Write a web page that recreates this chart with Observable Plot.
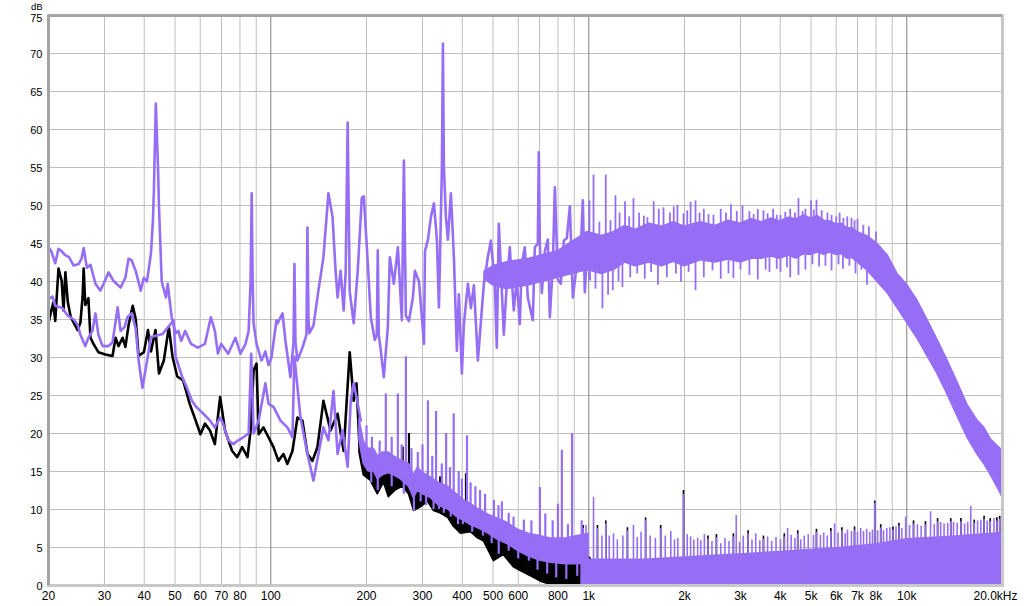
<!DOCTYPE html>
<html>
<head>
<meta charset="utf-8">
<script src="https://cdn.jsdelivr.net/npm/d3@7"></script>
<script src="https://cdn.jsdelivr.net/npm/@observablehq/plot@0.6"></script>
<style>
  html, body { margin: 0; padding: 0; background: #fff; }
  #chart { width: 1024px; height: 606px; overflow: hidden; }
</style>
</head>
<body>
<div id="chart"></div>
<script>
// ---------- Axis ticks ----------
const xTickValues = [20, 30, 40, 50, 60, 70, 80, 100, 200, 300, 400, 500, 600, 800, 1000, 2000, 3000, 4000, 5000, 6000, 7000, 8000, 10000];
const xTickLabels = ["20", "30", "40", "50", "60", "70", "80", "100", "200", "300", "400", "500", "600", "800", "1k", "2k", "3k", "4k", "5k", "6k", "7k", "8k", "10k"];
const xEndTick = [20000];
const xEndLabel = "20.0kHz";
const yTicks = [0, 5, 10, 15, 20, 25, 30, 35, 40, 45, 50, 55, 60, 65, 70];
const yTopTick = [75];
const yUnit = "dB";
const minorGrid = [30, 40, 50, 60, 70, 80, 90, 200, 300, 400, 500, 600, 700, 800, 900, 2000, 3000, 4000, 5000, 6000, 7000, 8000, 9000];
const decadeGrid = [100, 1000, 10000];
const yGrid = [5, 10, 15, 20, 25, 30, 35, 40, 45, 50, 55, 60, 65, 70];

// ---------- Upper purple trace: line, 20 Hz - 1 kHz ----------
const hiFreq = [20.0, 20.4, 21.0, 21.5, 22.0, 22.5, 23.2, 24.0, 24.9, 25.4, 25.8, 26.4, 27.1, 28.1, 29.1, 29.8, 30.9, 32.0, 33.7, 34.9, 35.7, 36.5, 37.6, 39.0, 39.9, 40.8, 42.0, 42.6, 42.9, 43.5, 44.2, 44.5, 45.4, 46.8, 47.4, 48.8, 50.2, 51.2, 52.3, 53.8, 56.1, 59.0, 62.1, 64.8, 66.7, 68.2, 69.8, 73.5, 77.4, 80.3, 83.3, 85.2, 86.4, 87.1, 87.7, 88.3, 90.2, 93.5, 96.2, 98.4, 100.5, 104.2, 105, 108.9, 111.2, 115.3, 117.9, 118.7, 119.6, 121.3, 125.8, 129.5, 130.4, 131.4, 132.3, 136.2, 141.2, 146.4, 151.8, 156.4, 159.9, 162.2, 165.8, 169.5, 172.0, 174.5, 177.1, 182.3, 187.7, 193.3, 196.1, 201.9, 206.3, 212.4, 215.5, 217, 218.6, 221.8, 226.7, 233.4, 236.8, 243.8, 251.0, 258.4, 262.2, 266.0, 271.9, 279.9, 284, 292.5, 303.2, 305.4, 312.1, 318.9, 325.9, 333.0, 337.9, 345.3, 347.8, 350.3, 355.4, 360.6, 368.5, 376.6, 384.8, 390.4, 399.0, 404.8, 416.7, 425.9, 435.2, 448.0, 454.5, 467.8, 481.5, 492.1, 506.4, 513.8, 521.3, 540.5, 552.3, 564.5, 581.0, 593.8, 606.8, 615.7, 629.3, 643.1, 666.9, 676.7, 691.5, 696.5, 701.6, 711.8, 727.5, 743.5, 754.4, 771.0, 782.2, 799.4, 817.0, 834.9, 853.2, 872.0, 891.2, 917.3, 944.2, 957.9, 971.8, 993.2, 1007.7];
const hiDb = [44.5, 44.0, 42.4, 44.3, 44.0, 43.5, 43.2, 42.1, 42.3, 43.0, 44.4, 41.8, 42.2, 39.7, 38.8, 39.7, 41.2, 40.1, 39.2, 40.5, 43.0, 42.8, 41.4, 38.8, 40.5, 40.0, 43.7, 48, 52.0, 63.4, 55, 50, 40.0, 37.9, 39.7, 35.3, 33.2, 33.5, 32.2, 33.5, 31.8, 31.3, 31.8, 35.3, 33.5, 30.5, 31.8, 30.5, 32.6, 30.5, 31.8, 33.5, 40, 51.6, 40, 34.5, 31.8, 29.6, 30.8, 29.0, 30.0, 34.9, 34.5, 35.8, 32.2, 27.4, 32, 42.3, 32, 29.6, 31.3, 33, 47.1, 35, 33.2, 34.2, 38.8, 43.2, 51.6, 48.5, 41.4, 37.9, 41.4, 36.2, 41.4, 60.9, 38.7, 34.5, 41.4, 51.0, 51.2, 42.4, 35.3, 32.3, 33, 44.1, 33, 30.9, 27.4, 34.0, 43.2, 39.7, 44.5, 34.9, 55.9, 35.5, 34.8, 37.9, 41.4, 40.0, 31.8, 44.0, 45.5, 48.5, 50.3, 45.5, 36.6, 55, 71.3, 55, 48.5, 45.5, 51.6, 43.2, 30.9, 38.3, 27.9, 34.4, 39.7, 36.5, 39.5, 29.6, 33.0, 39.7, 43.2, 45.4, 39.7, 31.3, 47.6, 33.0, 39.7, 44.5, 36.2, 40.3, 34.4, 42.3, 44.5, 37.9, 34.9, 44.5, 45, 57.0, 45, 38.5, 44.0, 45.5, 35.3, 42.3, 52.4, 40.3, 39.7, 45.4, 45.7, 49.9, 37.9, 42.3, 44.5, 50.7, 38.6, 46.1, 40.3];

// ---------- Upper purple trace: dense core, 470 Hz - 20 kHz ----------
const hiCoreFreq = [470, 500, 550, 650, 800, 990, 1100, 1200, 1300, 1400, 1550, 1700, 1850, 2000, 2250, 2500, 2750, 3000, 3250, 3500, 3750, 4000, 4250, 4500, 4750, 5000, 5250, 5500, 5750, 6000, 6250, 6500, 6750, 7000, 7500, 8070, 8690, 9350, 10050, 10800, 11600, 12500, 13400, 14450, 15500, 16700, 17500, 18400, 19700, 20000];
const hiCoreLo = [40.3, 39.5, 39.0, 39.5, 40.5, 41.5, 41.0, 41.5, 42.5, 42.0, 42.5, 42.0, 42.6, 42.0, 42.8, 42.5, 42.9, 42.5, 43.0, 43.0, 43.3, 43.0, 43.4, 43.0, 43.6, 43.5, 43.8, 43.5, 43.8, 43.5, 43.6, 43.0, 43.1, 42.5, 41.5, 40.0, 38.5, 36.5, 34.5, 32.5, 30.2, 27.8, 25.2, 22.2, 19.5, 17.2, 16.0, 14.5, 12.2, 11.5];
const hiCoreHi = [41.3, 42.0, 42.5, 43.0, 44.0, 46.5, 46.0, 46.5, 47.3, 46.8, 47.6, 47.2, 47.8, 47.2, 47.8, 47.3, 48.0, 47.6, 48.2, 47.8, 48.3, 47.9, 48.4, 48.2, 48.7, 48.3, 48.6, 48.0, 47.9, 47.5, 47.6, 47.0, 47.0, 46.5, 46.0, 45.0, 43.5, 41.0, 39.5, 37.5, 35.0, 32.3, 29.7, 26.7, 23.8, 21.7, 20.8, 19.2, 18.0, 17.5];
// peaks rising out of the core, and dips falling out of it
const hiUpBase = 45;
const hiUpFreq = [1005, 1035, 1080, 1131, 1170, 1213, 1250, 1300, 1340, 1382, 1440, 1490, 1529, 1600, 1660, 1718, 1800, 1850, 1900, 1986, 2040, 2090, 2166, 2230, 2300, 2380, 2467, 2600, 2700, 2800, 2920, 3044, 3200, 3300, 3400, 3543, 3650, 3800, 3900, 4007, 4150, 4300, 4450, 4564, 4700, 4800, 5000, 5100, 5200, 5400, 5630, 5800, 6000, 6150, 6320, 6500, 6700, 6850, 7000, 7300, 7600, 8000];
const hiUpTop = [50.6, 54.0, 47.8, 54.0, 48.0, 51.3, 49.0, 50.5, 48.5, 50.9, 49.0, 48.6, 48.4, 50.5, 49.5, 49.7, 49.0, 49.8, 50.0, 48.9, 49.3, 50.4, 50.6, 49.0, 49.5, 48.8, 48.7, 49.5, 49.0, 50.1, 49.2, 50.0, 49.2, 48.8, 49.5, 49.3, 48.9, 49.5, 48.7, 48.7, 49.1, 49.5, 49.0, 50.9, 49.2, 49.5, 50.6, 49.4, 50.7, 49.3, 49.0, 48.7, 48.5, 49.0, 48.3, 48.5, 48.3, 48.0, 48.2, 47.4, 47.2, 46.5];
const hiDownBase = 44;
const hiDownFreq = [1050, 1104, 1150, 1190, 1240, 1276, 1350, 1420, 1500, 1570, 1650, 1760, 1880, 1950, 2060, 2166, 2300, 2450, 2600, 2750, 2850, 3000, 3200, 3400, 3600, 3700, 3900, 4007, 4200, 4300, 4564, 4800, 5050, 5300, 5550, 5800, 6100, 6300, 6600, 6900, 7200, 7500];
const hiDownBot = [39.0, 36.4, 38.2, 38.8, 40.0, 39.2, 40.5, 41.0, 40.3, 41.2, 39.5, 40.5, 41.0, 39.9, 41.2, 38.8, 40.5, 41.4, 40.3, 41.0, 40.4, 41.5, 40.8, 40.2, 41.5, 41.2, 41.6, 41.2, 41.8, 40.5, 40.8, 41.5, 42.2, 41.9, 42.0, 41.4, 42.2, 41.6, 42.0, 41.0, 41.5, 39.5];

// ---------- Black trace ----------
const blkFreq = [20, 20.4, 20.7, 21.0, 21.5, 22.0, 22.3, 22.6, 23.0, 23.5, 24.0, 24.7, 25.2, 25.6, 25.8, 26.1, 26.7, 27.1, 27.7, 28.7, 30.2, 31.8, 32.5, 33.2, 34.2, 34.9, 35.7, 36.8, 37.6, 38.4, 39.9, 41.1, 42.0, 43.4, 44.5, 46.1, 47.8, 49.1, 50.8, 53.0, 55.6, 57.6, 60.1, 62.1, 64.4, 66.7, 69.3, 71.8, 75.6, 78.4, 81.3, 84.5, 86.4, 88.3, 90.2, 91.6, 94.8, 98.4, 102, 105.7, 109.6, 112.8, 117.0, 121.3, 125.8, 130.4, 135.2, 140.2, 146.4, 154.1, 162.2, 169.5, 177.1, 182.3, 186, 190];
const blkDb = [34.6, 36.1, 37.2, 34.8, 41.7, 40.1, 36.2, 41.2, 37.3, 35.3, 34.6, 33.6, 34.6, 38, 41.7, 36.9, 37.8, 32.6, 31.8, 30.7, 30.4, 30.2, 32.6, 31.5, 32.6, 31.4, 34.2, 36.8, 35.1, 30.2, 30.7, 33.6, 30.8, 33.6, 27.9, 29.6, 34.0, 30.1, 27.5, 27.0, 23.9, 22.1, 19.9, 21.3, 20.4, 18.6, 24.8, 20.4, 17.7, 16.9, 18.2, 16.9, 20.4, 28.3, 29.2, 19.9, 20.8, 19.5, 18.2, 16.4, 17.3, 16.0, 17.7, 22.1, 21.7, 17.3, 16.4, 18.2, 24.3, 20.4, 22.6, 17.7, 30.7, 24.3, 26.6, 18.5];
const blkMidFreq = [190, 196, 206, 217, 227, 235, 247, 260, 272, 282, 297, 312, 326, 341, 361, 377, 396, 426, 448, 468, 503, 540, 581, 611, 672, 707, 744, 777, 817, 860, 900, 965, 1015];
const blkMidLo = [17.5, 14.5, 13.8, 12.0, 13.5, 11.6, 12.5, 13.0, 12.0, 9.8, 10.3, 11.0, 9.8, 9.5, 8.9, 7.7, 6.8, 7.0, 6.2, 5.8, 3.2, 4.0, 2.4, 1.9, 1.0, 0.5, 0.2, 0, 0, 0, 0, 0, 0];
const blkMidHi = [19.5, 17.0, 16.0, 15.0, 15.5, 15.0, 15.0, 15.0, 14.0, 12.5, 13.0, 13.0, 12.0, 11.5, 11.0, 9.5, 9.0, 8.5, 8.0, 7.5, 6.5, 6.0, 5.0, 4.5, 4.0, 4.0, 3.5, 3.5, 4.0, 4.5, 3.5, 4.5, 3.5];
const blkMidTipFreq = [227, 260, 272, 312, 341, 411];
const blkMidTipBase = [14, 14, 14, 12, 11, 9];
const blkMidTipTop = [17.3, 18.2, 20.0, 15.1, 14.3, 14.7];
const blkTipFreq = [960, 1065, 1131, 1323, 1509, 1683, 1986, 2370, 2520, 2850, 3170, 3543, 4120, 4540, 5200, 5770, 6250, 6850, 7930, 8280, 9050, 9450, 10500, 11450, 12500, 13750, 14800, 16300, 17500, 18300, 19200, 19600];
const blkTipDb = [7.9, 7.9, 8.5, 7.6, 8.9, 7.9, 12.5, 6.5, 6.7, 6.8, 7.2, 6.5, 6.8, 7.2, 7.4, 7.5, 7.6, 7.7, 11.1, 8.0, 7.7, 8.2, 8.5, 8.4, 8.8, 8.8, 8.8, 8.6, 9.1, 8.8, 8.9, 9.1];

// ---------- Lower purple trace ----------
const loFreq = [20, 20.6, 21.0, 22.1, 23.0, 24.0, 24.7, 25.2, 26.1, 26.7, 27.5, 28.1, 28.7, 29.6, 30.9, 31.8, 33.0, 33.7, 34.7, 35.4, 36.5, 37.6, 38.4, 39.5, 40.8, 42.0, 45.7, 49.5, 50.2, 52.6, 54.4, 56.5, 58.3, 61.4, 64.4, 66.7, 69.3, 70.8, 73.5, 76.2, 79.0, 82.0, 85.2, 86.8, 88.3, 91.6, 96.2, 98.4, 102, 107.3, 112.8, 117.0, 118.7, 124, 130.4, 136.2, 141.2, 146.4, 151.8, 157.5, 162.2, 168.2, 174.5, 178.4, 182.3, 187.7, 191.9];
const loDb = [37.7, 38.0, 36.8, 36.5, 35.5, 35.0, 34.3, 33.0, 31.5, 32.6, 33.5, 35.8, 33.0, 31.5, 31.5, 32.0, 36.6, 33.5, 34.0, 35.3, 35.8, 33.8, 29.6, 26.0, 29.5, 32.7, 33.1, 34.9, 30.1, 27.5, 26.1, 24.3, 23.5, 22.6, 21.7, 20.8, 22.1, 21.3, 19.1, 18.6, 19.1, 19.5, 20.0, 30.5, 20.0, 21.7, 26.6, 23.9, 23.5, 21.7, 20.8, 19.5, 30.1, 22.1, 17.3, 13.8, 17.3, 20.8, 19.1, 25.6, 17.3, 20.4, 15.6, 24.3, 26.6, 23.9, 21.7];
const loMidFreq = [190, 196, 203, 211, 217, 225, 235, 244, 256, 272, 282, 290, 301, 319, 338, 361, 385, 405, 423, 451, 485, 518, 552, 602, 648, 702, 760, 847, 924, 1000];
const loMidLo = [19.0, 16.0, 15.0, 15.0, 14.0, 14.5, 14.8, 14.5, 14.0, 13.0, 11.5, 12.5, 12.0, 11.5, 10.5, 10.0, 9.0, 8.5, 8.0, 7.5, 6.8, 6.0, 5.5, 4.5, 3.8, 3.3, 3.0, 2.8, 2.8, 3.0];
const loMidHi = [22.0, 19.0, 18.0, 18.0, 17.0, 17.5, 17.5, 17.0, 16.5, 16.0, 14.5, 15.5, 14.8, 14.2, 13.5, 13.0, 12.0, 11.2, 10.8, 10.0, 9.3, 8.8, 8.3, 7.3, 6.8, 6.5, 6.2, 6.2, 6.5, 6.8];
const loMidUpFreq = [200, 208, 220, 230, 240, 251, 258, 266, 277, 290, 300, 312, 322, 331, 345, 356, 366, 376, 390, 399, 414, 425, 440, 455, 472, 503, 520, 533, 560, 580, 625, 660, 702, 730, 770, 800, 823, 860, 886, 950];
const loMidUpBase = [17.5, 17, 16.5, 17, 16.5, 16, 16, 15.5, 15, 14.5, 14, 13.5, 13.5, 13, 12.5, 12.5, 12, 12, 11.5, 11, 10.5, 10.5, 10, 9.5, 9, 8.5, 8.5, 8, 7.5, 7, 6.5, 6.5, 6, 6, 6, 6, 6, 6, 6, 6];
const loMidUpTop = [21, 19.5, 19, 25.2, 19.5, 25.2, 18.5, 30.1, 18, 17.5, 18.5, 24.3, 17, 22.9, 16, 20.0, 15.5, 22.6, 15, 14.0, 19.7, 13.5, 13, 12.5, 12, 11.2, 10.5, 11.0, 9.5, 9, 8.6, 8.5, 12.9, 9.4, 8.5, 10.7, 17.8, 8, 20.0, 8.5];
const loMidDownFreq = [207, 217, 240, 262, 282, 296, 308, 325, 338, 350, 368, 388, 402, 430, 465, 495, 521, 560, 600, 648, 690, 740, 790, 850, 920, 970];
const loMidDownBase = [16, 15, 15, 14.5, 13, 13, 12.5, 12, 11.5, 11.5, 11, 10, 9.5, 9, 8.5, 8, 7.5, 7, 6, 5.5, 5, 5, 5, 5, 5, 5];
const loMidDownBot = [13.5, 12.5, 13, 12, 9.8, 11, 10.5, 10, 10, 9.5, 9.0, 8.0, 8.0, 7.0, 6.5, 5.5, 4.1, 4.5, 3.5, 3.2, 2.0, 1.5, 1.0, 0.8, 1.2, 1.5];
const loCoreFreq = [944, 1500, 2500, 4000, 6000, 8000, 10000, 14000, 20000];
const loCoreDb = [3.5, 3.5, 4.0, 4.5, 5.0, 5.5, 6.2, 6.5, 7.0];
const loSpikeFreq = [960, 980, 1035, 1065, 1100, 1131, 1160, 1196, 1230, 1280, 1323, 1382, 1420, 1460, 1509, 1560, 1620, 1683, 1740, 1811, 1860, 1906, 1986, 2040, 2090, 2140, 2200, 2250, 2310, 2370, 2440, 2520, 2600, 2680, 2760, 2850, 2909, 2980, 3060, 3170, 3260, 3350, 3450, 3543, 3650, 3760, 3880, 4007, 4120, 4220, 4330, 4450, 4540, 4640, 4760, 4900, 5090, 5200, 5350, 5480, 5620, 5770, 5930, 6080, 6250, 6400, 6510, 6700, 6850, 7000, 7160, 7310, 7480, 7650, 7800, 7930, 8100, 8280, 8450, 8650, 8850, 9050, 9250, 9450, 9650, 9920, 10200, 10500, 10800, 11100, 11450, 11880, 12200, 12500, 12780, 13100, 13450, 13750, 14030, 14400, 14800, 15200, 15550, 15890, 16300, 16700, 17100, 17500, 17900, 18300, 18800, 19200, 19600, 19950];
const loSpikeDb = [7.5, 7.9, 11.6, 7.5, 6.5, 8.1, 6.5, 6.8, 6.0, 6.5, 7.2, 7.9, 6.3, 7.0, 8.6, 6.5, 6.2, 7.5, 6.5, 7.1, 6.0, 6.2, 12.0, 6.7, 6.4, 6.0, 6.2, 5.9, 6.7, 6.1, 5.8, 6.3, 5.5, 6.2, 5.8, 6.4, 9.2, 5.7, 6.5, 6.8, 6.0, 6.8, 5.9, 6.1, 6.4, 5.8, 6.3, 6.0, 6.4, 7.5, 6.6, 6.2, 6.8, 6.0, 6.5, 6.7, 6.6, 7.0, 6.6, 6.9, 6.5, 7.1, 8.1, 6.9, 7.2, 6.8, 7.3, 7.1, 7.3, 7.0, 7.5, 7.1, 7.4, 7.0, 7.3, 10.8, 7.2, 7.6, 7.2, 7.5, 7.6, 7.3, 7.7, 7.8, 7.5, 9.0, 7.9, 8.1, 8.0, 7.8, 8.0, 9.7, 8.0, 8.4, 8.3, 8.1, 8.2, 8.4, 8.3, 8.2, 8.4, 8.1, 8.3, 10.4, 8.2, 8.5, 8.6, 8.7, 8.5, 8.4, 8.8, 8.5, 8.7, 8.6];

// ---------- Build tables ----------
const purple = "#966ef5";
const zipPts = (fs, ys) => fs.map((f, i) => ({f, db: ys[i]}));
const zipBand = (fs, lo, hi) => fs.map((f, i) => ({f, lo: lo[i], hi: hi[i]}));
const hiLine = zipPts(hiFreq, hiDb);
const hiCore = zipBand(hiCoreFreq, hiCoreLo, hiCoreHi);
const hiUp = zipPts(hiUpFreq, hiUpTop);
const hiDown = zipPts(hiDownFreq, hiDownBot);
const blkLine = zipPts(blkFreq, blkDb);
const blkMid = zipBand(blkMidFreq, blkMidLo, blkMidHi);
const blkMidTips = zipBand(blkMidTipFreq, blkMidTipBase, blkMidTipTop);
const blkTips = zipPts(blkTipFreq, blkTipDb);
const loLine = zipPts(loFreq, loDb);
const loMid = zipBand(loMidFreq, loMidLo, loMidHi);
const loMidUp = zipBand(loMidUpFreq, loMidUpBase, loMidUpTop);
const loMidDown = zipBand(loMidDownFreq, loMidDownBase, loMidDownBot);
const loCore = zipPts(loCoreFreq, loCoreDb);
const loSpikes = zipPts(loSpikeFreq, loSpikeDb);

const lineOpts = {strokeWidth: 2.6, strokeLinejoin: "round", strokeLinecap: "round", clip: true};

const chart = Plot.plot({
  width: 1024,
  height: 606,
  marginTop: 15,
  marginRight: 22,
  marginBottom: 21,
  marginLeft: 48,
  x: {type: "log", domain: [20, 20000], label: null, axis: null},
  y: {domain: [0, 75], label: null, axis: null},
  style: {fontFamily: "'Liberation Sans', Arial, sans-serif", fontSize: "12px", color: "#000", background: "#fff"},
  marks: [
    // grid
    Plot.ruleY(yGrid, {stroke: "#c0c0c0", strokeWidth: 1}),
    Plot.ruleX(minorGrid, {stroke: "#c0c0c0", strokeWidth: 1}),
    Plot.ruleX(decadeGrid, {stroke: "#7f7f7f", strokeWidth: 1}),
    // black trace
    Plot.line(blkLine, {x: "f", y: "db", stroke: "#000", ...lineOpts}),
    Plot.areaY(blkMid, {x: "f", y1: "lo", y2: "hi", fill: "#000", stroke: "#000", strokeWidth: 1.5, clip: true}),
    Plot.ruleX(blkMidTips, {x: "f", y1: "lo", y2: "hi", stroke: "#000", strokeWidth: 2.2, clip: true}),
    Plot.ruleX(blkTips, {x: "f", y1: 0, y2: "db", stroke: "#000", strokeWidth: 1.6, clip: true}),
    // lower purple trace
    Plot.line(loLine, {x: "f", y: "db", stroke: purple, ...lineOpts}),
    Plot.areaY(loMid, {x: "f", y1: "lo", y2: "hi", fill: purple, stroke: purple, strokeWidth: 1.5, clip: true}),
    Plot.ruleX(loMidUp, {x: "f", y1: "lo", y2: "hi", stroke: purple, strokeWidth: 2.2, clip: true}),
    Plot.ruleX(loMidDown, {x: "f", y1: "lo", y2: "hi", stroke: purple, strokeWidth: 2.2, clip: true}),
    Plot.areaY(loCore, {x: "f", y1: 0, y2: "db", fill: purple, clip: true}),
    Plot.ruleX(loSpikes, {x: "f", y1: 0, y2: "db", stroke: purple, strokeWidth: 1.6, clip: true}),
    // upper purple trace
    Plot.areaY(hiCore, {x: "f", y1: "lo", y2: "hi", fill: purple, stroke: purple, strokeWidth: 1.5, clip: true}),
    Plot.ruleX(hiUp, {x: "f", y1: hiUpBase, y2: "db", stroke: purple, strokeWidth: 1.8, clip: true}),
    Plot.ruleX(hiDown, {x: "f", y1: hiDownBase, y2: "db", stroke: purple, strokeWidth: 1.8, clip: true}),
    Plot.line(hiLine, {x: "f", y: "db", stroke: purple, ...lineOpts}),
    // frame
    Plot.frame({stroke: "#c8c8c8", strokeWidth: 3}),
    Plot.ruleX([20], {stroke: "#a4a4a4", strokeWidth: 3, y1: 0, y2: 75}),
    Plot.ruleY([75], {stroke: "#a4a4a4", strokeWidth: 3, x1: 20, x2: 20000}),
    // tick labels
    Plot.text(yTicks, {y: (d) => d, text: (d) => String(d), frameAnchor: "left", textAnchor: "end", dx: -6, dy: 1, fontSize: 11, fill: "#000"}),
    Plot.text(yTopTick, {y: (d) => d, text: (d) => String(d), frameAnchor: "left", textAnchor: "end", dx: -6, dy: 3, fontSize: 11, fill: "#000"}),
    Plot.text(xTickValues, {x: (d) => d, text: (d, i) => xTickLabels[i], frameAnchor: "bottom", lineAnchor: "top", dy: 6, fontSize: 12, fill: "#000"}),
    Plot.text(xEndTick, {x: (d) => d, text: () => xEndLabel, frameAnchor: "bottom", lineAnchor: "top", dy: 6, dx: -7, fontSize: 12, fill: "#000"}),
    Plot.text([yUnit], {frameAnchor: "top-left", dx: -6, dy: -12, textAnchor: "end", fontSize: 9.5, fill: "#000"})
  ]
});
document.getElementById("chart").appendChild(chart);
</script>
</body>
</html>
